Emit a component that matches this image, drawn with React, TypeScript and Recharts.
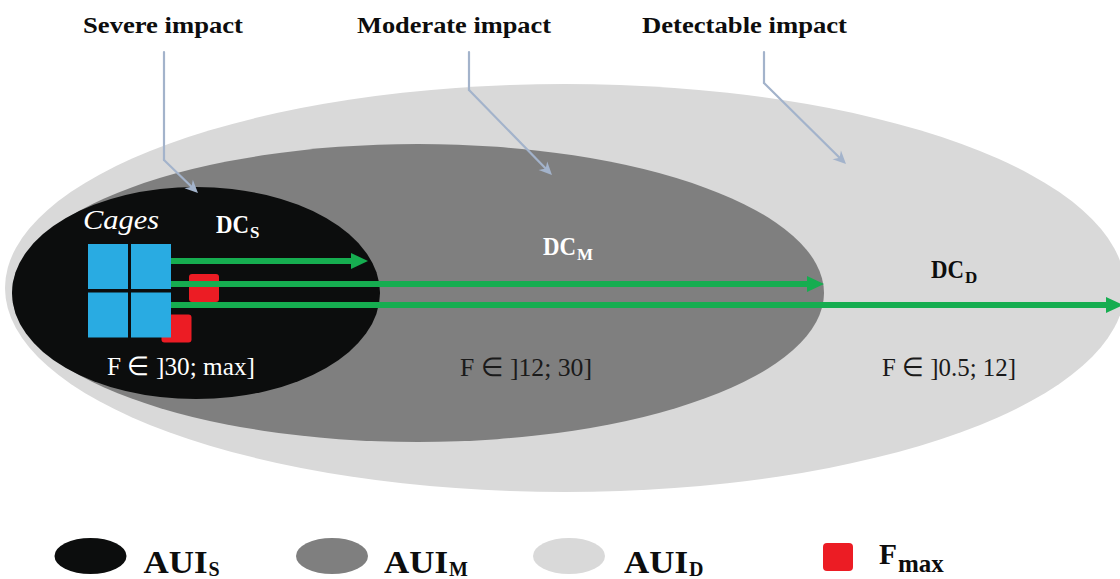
import { ScatterChart, Scatter, XAxis, YAxis, ReferenceLine } from "recharts"

const WIDTH = 1120
const HEIGHT = 579
// axes span the whole drawing (diagram units, origin top-left)
const X_MAX = 1120
const Y_MAX = 579
const kx = WIDTH / X_MAX
const ky = HEIGHT / Y_MAX

const FONT = '"Liberation Serif", "Times New Roman", Times, serif'
const GREEN = "#16ad50"
const LEADER = "#a3b3cb"
const RED = "#ec1c24"
const BLUE = "#29abe2"

// areas of unacceptable impact: centre + half axes
const zones = [
  { zone: "D", x: 565, y: 288, rx: 560, ry: 204 },
  { zone: "M", x: 418, y: 293, rx: 406, ry: 149 },
  { zone: "S", x: 196, y: 293, rx: 184, ry: 106 },
]

const cages = [
  { x: 108, y: 266.5 },
  { x: 151, y: 266.5 },
  { x: 108, y: 315 },
  { x: 151, y: 315 },
]

const fmaxPoints = [
  { x: 204, y: 288 },
  { x: 176.5, y: 328.5 },
]

const dcStartX = 171
const discharge = [
  { dc: "S", y: 261, reach: 368 },
  { dc: "M", y: 284, reach: 824 },
  { dc: "D", y: 305, reach: 1123 },
]

const impactTitles = ["Severe impact", "Moderate impact", "Detectable impact"]
const titleX = [83, 357, 642]
const leaderTop = 52
const leaderX = [164, 469, 764]
const leaderBendY = [160, 90, 83]
const leaderTip = [
  { x: 198, y: 193 },
  { x: 552, y: 175 },
  { x: 846, y: 164 },
]

const labels = [
  ...impactTitles.map((t, i) => ({ style: "title", text: t, sub: "", x: titleX[i], y: 33 })),
  { style: "cages", text: "Cages", sub: "", x: 83, y: 229 },
  { style: "dcLight", text: "DC", sub: "S", x: 216, y: 233 },
  { style: "dcLight", text: "DC", sub: "M", x: 543, y: 255 },
  { style: "dcDark", text: "DC", sub: "D", x: 931, y: 278 },
  { style: "rangeLight", text: "F ∈ ]30; max]", sub: "", x: 107, y: 375 },
  { style: "rangeDark", text: "F ∈ ]12; 30]", sub: "", x: 460, y: 376 },
  { style: "rangeDark", text: "F ∈ ]0.5; 12]", sub: "", x: 882, y: 376 },
]

const legendItems = [
  { key: "S", text: "AUI", sub: "S", x: 90.5, y: 556 },
  { key: "M", text: "AUI", sub: "M", x: 332, y: 556 },
  { key: "D", text: "AUI", sub: "D", x: 569, y: 556 },
  { key: "F", text: "F", sub: "max", x: 838, y: 557 },
]

const zoneFill: Record<string, string> = { D: "#d9d9d9", M: "#7f7f7f", S: "#0c0d0d" }

const textStyle: Record<string, any> = {
  title: { size: 24, weight: 700, color: "#0d0d0d" },
  cages: { size: 27, weight: 400, italic: true, color: "#ffffff" },
  dcLight: { size: 25, weight: 700, color: "#ffffff", subSize: 17, subDy: 5 },
  dcDark: { size: 25, weight: 700, color: "#0d0d0d", subSize: 17, subDy: 5 },
  rangeLight: { size: 26, weight: 400, color: "#ffffff" },
  rangeDark: { size: 26, weight: 400, color: "#1a1a1a" },
}

const textWidth: Record<string, number> = {
  "Severe impact": 160,
  "Moderate impact": 194,
  "Detectable impact": 205,
  Cages: 76,
  DC: 33,
  "F ∈ ]30; max]": 148,
  "F ∈ ]12; 30]": 132,
  "F ∈ ]0.5; 12]": 134,
  AUI: 64,
  F: 18,
}

const legendStyle: Record<string, any> = {
  S: { gap: 53, size: 32, dy: 17, subSize: 20, subDy: 20 },
  M: { gap: 52, size: 32, dy: 17, subSize: 20, subDy: 20 },
  D: { gap: 55, size: 32, dy: 17, subSize: 20, subDy: 20 },
  F: { gap: 41, size: 30, dy: 7, subSize: 25, subDy: 15 },
}

const ZoneShape = (p: any) => (
  <ellipse cx={p.cx} cy={p.cy} rx={p.payload.rx * kx} ry={p.payload.ry * ky} fill={zoneFill[p.payload.zone]} />
)

const CageShape = (p: any) => (
  <rect x={p.cx - 20 * kx} y={p.cy - 22.5 * ky} width={40 * kx} height={45 * ky} fill={BLUE} />
)

const FmaxShape = (p: any) => (
  <rect x={p.cx - 15 * kx} y={p.cy - 14 * ky} width={30 * kx} height={28 * ky} rx={3} fill={RED} />
)

const LabelShape = (p: any) => {
  const { cx, cy, payload } = p
  const st = textStyle[payload.style]
  const w = textWidth[payload.text]
  return (
    <g>
      <text
        x={cx}
        y={cy}
        fontFamily={FONT}
        fontSize={st.size}
        fontWeight={st.weight}
        fontStyle={st.italic ? "italic" : "normal"}
        fill={st.color}
        textLength={w}
        lengthAdjust="spacingAndGlyphs"
      >
        {payload.text}
      </text>
      {payload.sub ? (
        <text x={cx + w + 1} y={cy + st.subDy} fontFamily={FONT} fontSize={st.subSize} fontWeight={700} fill={st.color}>
          {payload.sub}
        </text>
      ) : null}
    </g>
  )
}

const LegendShape = (p: any) => {
  const { cx, cy, payload } = p
  const st = legendStyle[payload.key]
  const w = textWidth[payload.text]
  const tx = cx + st.gap
  return (
    <g>
      {payload.key === "F" ? (
        <rect x={cx - 15} y={cy - 14} width={30} height={28} rx={4} fill={RED} />
      ) : (
        <ellipse cx={cx} cy={cy} rx={36} ry={18} fill={zoneFill[payload.key]} />
      )}
      <text
        x={tx}
        y={cy + st.dy}
        fontFamily={FONT}
        fontSize={st.size}
        fontWeight={700}
        fill="#0d0d0d"
        textLength={w}
        lengthAdjust="spacingAndGlyphs"
      >
        {payload.text}
      </text>
      <text x={tx + w + 1} y={cy + st.subDy} fontFamily={FONT} fontSize={st.subSize} fontWeight={700} fill="#0d0d0d">
        {payload.sub}
      </text>
    </g>
  )
}

const DischargeArrow = (p: any) => {
  const { x1, y1, x2, y2 } = p
  const head = 17
  const half = 8
  return (
    <g>
      <line x1={x1} y1={y1} x2={x2 - head + 1} y2={y2} stroke={GREEN} strokeWidth={6} />
      <polygon points={`${x2},${y2} ${x2 - head},${y2 - half} ${x2 - head},${y2 + half}`} fill={GREEN} />
    </g>
  )
}

const LeaderLine = (p: any) => (
  <line x1={p.x1} y1={p.y1} x2={p.x2} y2={p.y2} stroke={LEADER} strokeWidth={2.2} strokeLinecap="round" />
)

const LeaderArrow = (p: any) => {
  const { x1, y1, x2, y2 } = p
  const len = Math.hypot(x2 - x1, y2 - y1) || 1
  const ux = (x2 - x1) / len
  const uy = (y2 - y1) / len
  const nx = -uy
  const ny = ux
  const L = 13
  const W = 6
  const notch = 4
  const bx = x2 - ux * L
  const by = y2 - uy * L
  const mx = x2 - ux * (L - notch)
  const my = y2 - uy * (L - notch)
  return (
    <g>
      <line x1={x1} y1={y1} x2={mx} y2={my} stroke={LEADER} strokeWidth={2.2} strokeLinecap="round" />
      <polygon
        points={`${x2},${y2} ${bx + nx * W},${by + ny * W} ${mx},${my} ${bx - nx * W},${by - ny * W}`}
        fill={LEADER}
      />
    </g>
  )
}

export default function App() {
  return (
    <div style={{ position: "absolute", left: 0, top: 0, width: WIDTH, height: HEIGHT, background: "#fff" }}>
      <ScatterChart width={WIDTH} height={HEIGHT} margin={{ top: 0, right: 0, bottom: 0, left: 0 }}>
        <XAxis type="number" dataKey="x" domain={[0, X_MAX]} allowDataOverflow hide />
        <YAxis type="number" dataKey="y" domain={[0, Y_MAX]} allowDataOverflow reversed hide />
        <Scatter data={zones} shape={ZoneShape} isAnimationActive={false} />
        <Scatter data={fmaxPoints} shape={FmaxShape} isAnimationActive={false} />
        <Scatter data={cages} shape={CageShape} isAnimationActive={false} />
        <Scatter data={labels} shape={LabelShape} isAnimationActive={false} />
        <Scatter data={legendItems} shape={LegendShape} isAnimationActive={false} />
        {impactTitles.map((t, i) => (
          <ReferenceLine
            key={`v-${t}`}
            segment={[
              { x: leaderX[i], y: leaderTop },
              { x: leaderX[i], y: leaderBendY[i] },
            ]}
            ifOverflow="visible"
            shape={LeaderLine}
            zIndex={700}
          />
        ))}
        {impactTitles.map((t, i) => (
          <ReferenceLine
            key={`d-${t}`}
            segment={[
              { x: leaderX[i], y: leaderBendY[i] },
              { x: leaderTip[i].x, y: leaderTip[i].y },
            ]}
            ifOverflow="visible"
            shape={LeaderArrow}
            zIndex={700}
          />
        ))}
        {discharge.map((d) => (
          <ReferenceLine
            key={d.dc}
            segment={[
              { x: dcStartX, y: d.y },
              { x: d.reach, y: d.y },
            ]}
            ifOverflow="visible"
            shape={DischargeArrow}
            zIndex={700}
          />
        ))}
      </ScatterChart>
    </div>
  )
}
